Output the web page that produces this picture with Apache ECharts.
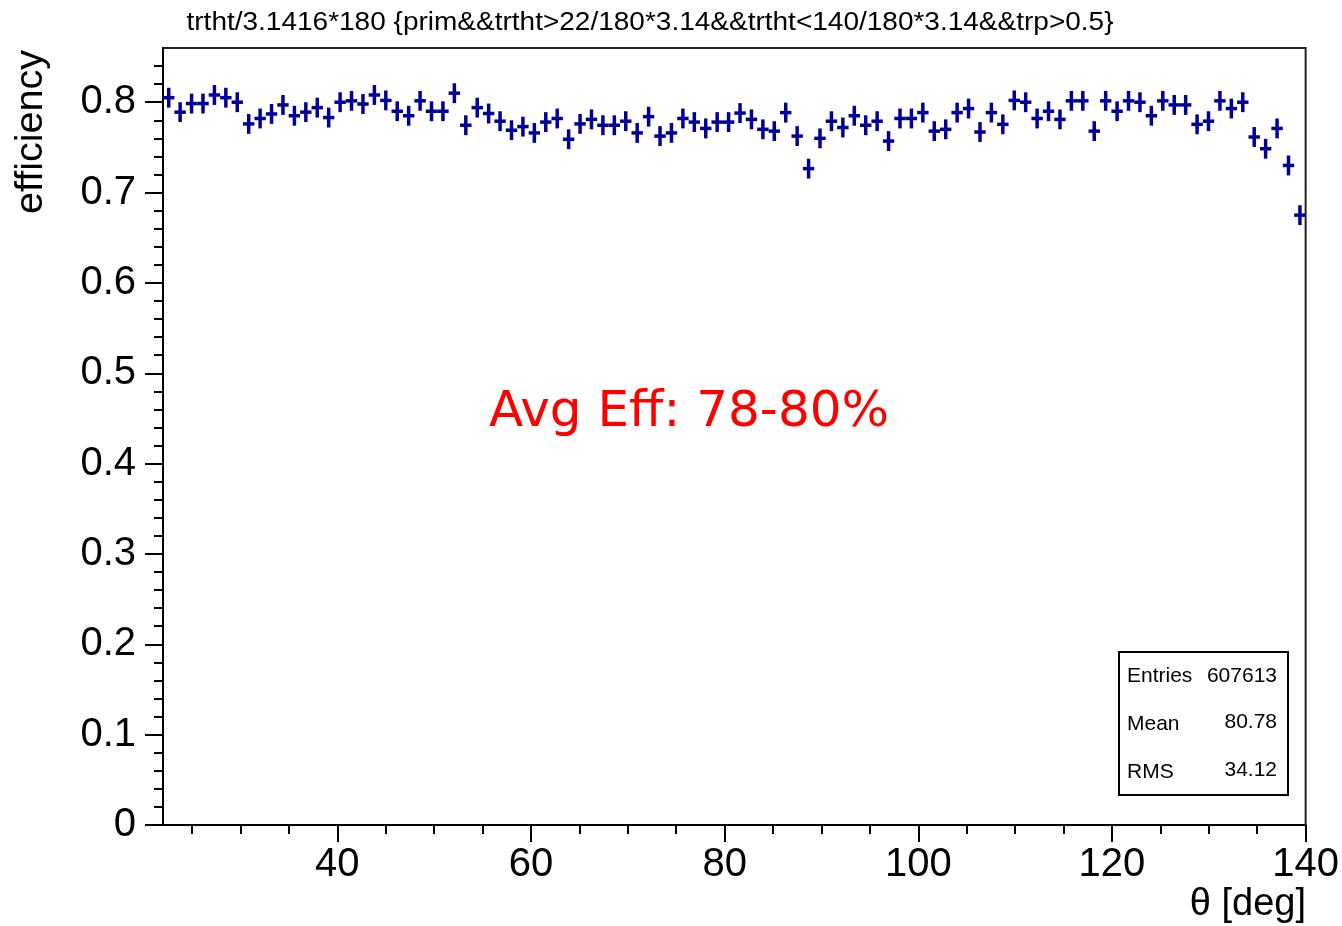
<!DOCTYPE html>
<html>
<head>
<meta charset="utf-8">
<script src="https://cdn.jsdelivr.net/npm/echarts@6/dist/echarts.min.js"></script>
<style>
html,body{margin:0;padding:0;background:#fff;}
#chart{width:1342px;height:926px;}
</style>
</head>
<body>
<div id="chart"></div>
<script>
// Histogram binning (ROOT default: 100 bins from 22 to 140 deg)
var xMin = 22, xMax = 140, nBins = 100;
// efficiency per bin
var efficiency = [
  0.805, 0.789, 0.7985, 0.7985, 0.808, 0.805, 0.800, 0.776, 0.782, 0.787,
  0.797, 0.785, 0.789, 0.794, 0.783, 0.800, 0.8015, 0.798, 0.808, 0.802,
  0.790, 0.785, 0.8015, 0.790, 0.790, 0.810, 0.7745, 0.794, 0.7875, 0.779,
  0.769, 0.773, 0.766, 0.778, 0.782, 0.759, 0.776, 0.781, 0.7745, 0.7745,
  0.779, 0.766, 0.784, 0.7625, 0.766, 0.782, 0.778, 0.771, 0.778, 0.778,
  0.788, 0.781, 0.770, 0.768, 0.7885, 0.7625, 0.7265, 0.760, 0.779, 0.772,
  0.785, 0.7745, 0.779, 0.757, 0.782, 0.782, 0.7885, 0.768, 0.770, 0.7885,
  0.793, 0.767, 0.7885, 0.7755, 0.802, 0.800, 0.782, 0.790, 0.781, 0.8015,
  0.8015, 0.768, 0.8015, 0.790, 0.8015, 0.800, 0.785, 0.8015, 0.797, 0.797,
  0.7755, 0.779, 0.8015, 0.793, 0.800, 0.7615, 0.7485, 0.771, 0.730, 0.675
];
var yErr = 0.011;
var xMajorTicks = [40, 60, 80, 100, 120, 140];
var xMinorTicks = [25, 30, 35, 45, 50, 55, 65, 70, 75, 85, 90, 95, 105, 110, 115, 125, 130, 135];
var yMajorTicks = [0, 0.1, 0.2, 0.3, 0.4, 0.5, 0.6, 0.7, 0.8];
var yMinorTicks = [0.02, 0.04, 0.06, 0.08, 0.12, 0.14, 0.16, 0.18, 0.22, 0.24, 0.26, 0.28,
  0.32, 0.34, 0.36, 0.38, 0.42, 0.44, 0.46, 0.48, 0.52, 0.54, 0.56, 0.58,
  0.62, 0.64, 0.66, 0.68, 0.72, 0.74, 0.76, 0.78, 0.82, 0.84];
var yMaxAxis = 0.86;
var titleText = 'trtht/3.1416*180 {prim&&trtht>22/180*3.14&&trtht<140/180*3.14&&trp>0.5}';
var yTitle = 'efficiency';
var xTitle = 'θ [deg]';
var noteText = 'Avg Eff: 78-80%';
var statsLabels = ['Entries', 'Mean', 'RMS'];
var statsValues = ['607613', '80.78', '34.12'];

var binW = (xMax - xMin) / nBins;
var data = efficiency.map(function (v, i) { return [xMin + (i + 0.5) * binW, v]; });
var markColor = '#000099';
var axisFont = 'Liberation Sans, Arial, sans-serif';

var chart = echarts.init(document.getElementById('chart'), null, {renderer: 'canvas'});

function axisBase(extra) {
  return Object.assign({
    type: 'value',
    splitLine: {show: false},
    axisLine: {show: false},
    axisTick: {show: false},
    axisLabel: {show: false}
  }, extra);
}

var option = {
  animation: false,
  backgroundColor: '#fff',
  grid: {left: 163, top: 48, right: 36, bottom: 101, show: true, borderColor: '#222', borderWidth: 2, backgroundColor: 'transparent'},
  xAxis: [
    axisBase({
      min: xMin, max: xMax, position: 'bottom',
      axisLine: {show: true, onZero: false, lineStyle: {color: '#000', width: 2}},
      axisTick: {show: true, inside: false, length: 17, customValues: xMajorTicks, lineStyle: {color: '#000', width: 2}},
      axisLabel: {show: true, customValues: xMajorTicks, margin: 20, color: '#000', fontSize: 40, fontFamily: axisFont}
    }),
    axisBase({
      min: xMin, max: xMax, position: 'bottom', offset: 0,
      axisTick: {show: true, inside: false, length: 9, customValues: xMinorTicks, lineStyle: {color: '#000', width: 2}}
    })
  ],
  yAxis: [
    axisBase({
      min: 0, max: yMaxAxis, position: 'left',
      axisLine: {show: true, onZero: false, lineStyle: {color: '#000', width: 2}},
      axisTick: {show: true, inside: false, length: 18, customValues: yMajorTicks, lineStyle: {color: '#000', width: 2}},
      axisLabel: {show: true, customValues: yMajorTicks, margin: 27, color: '#000', fontSize: 40, fontFamily: axisFont,
        formatter: function (v) { return v === 0 ? '0' : v.toFixed(1); }}
    }),
    axisBase({
      min: 0, max: yMaxAxis, position: 'left', offset: 0,
      axisTick: {show: true, inside: false, length: 9, customValues: yMinorTicks, lineStyle: {color: '#000', width: 2}}
    })
  ],
  series: [{
    type: 'custom',
    xAxisIndex: 0, yAxisIndex: 0,
    data: data,
    clip: true,
    renderItem: function (params, api) {
      var xc = api.value(0), y = api.value(1);
      var l = api.coord([xc - binW / 2, y]);
      var r = api.coord([xc + binW / 2, y]);
      var t = api.coord([xc, y + yErr]);
      var b = api.coord([xc, y - yErr]);
      var st = {stroke: markColor, lineWidth: 3.5, fill: null};
      return {type: 'group', children: [
        {type: 'line', shape: {x1: l[0], y1: l[1], x2: r[0], y2: r[1]}, style: st},
        {type: 'line', shape: {x1: t[0], y1: t[1], x2: b[0], y2: b[1]}, style: st}
      ]};
    }
  }],
  graphic: [
    {type: 'text', x: 650, y: 23, scaleX: 1.12, style: {text: titleText, fontSize: 25, fontFamily: axisFont, fill: '#000', align: 'center', verticalAlign: 'middle'}},
    {type: 'text', x: 32, y: 50, rotation: Math.PI / 2, scaleX: 1.04, style: {text: yTitle, fontSize: 38, fontFamily: axisFont, fill: '#000', align: 'right', verticalAlign: 'middle'}},
    {type: 'text', x: 1306, y: 905, style: {text: xTitle, fontSize: 38, fontFamily: axisFont, fill: '#000', align: 'right', verticalAlign: 'middle'}},
    {type: 'text', x: 689, y: 413, style: {text: noteText, fontSize: 50, fontFamily: 'DejaVu Sans, Verdana, sans-serif', fill: '#ff0000', align: 'center', verticalAlign: 'middle'}},
    {type: 'rect', shape: {x: 1119, y: 652, width: 169, height: 143}, style: {fill: '#fff', stroke: '#000', lineWidth: 2}},
    {type: 'text', x: 1127, y: 676, style: {text: statsLabels[0], fontSize: 21, fontFamily: axisFont, fill: '#000', align: 'left', verticalAlign: 'middle'}},
    {type: 'text', x: 1127, y: 724, style: {text: statsLabels[1], fontSize: 21, fontFamily: axisFont, fill: '#000', align: 'left', verticalAlign: 'middle'}},
    {type: 'text', x: 1127, y: 772, style: {text: statsLabels[2], fontSize: 21, fontFamily: axisFont, fill: '#000', align: 'left', verticalAlign: 'middle'}},
    {type: 'text', x: 1277, y: 676, style: {text: statsValues[0], fontSize: 21, fontFamily: axisFont, fill: '#000', align: 'right', verticalAlign: 'middle'}},
    {type: 'text', x: 1277, y: 722, style: {text: statsValues[1], fontSize: 21, fontFamily: axisFont, fill: '#000', align: 'right', verticalAlign: 'middle'}},
    {type: 'text', x: 1277, y: 770, style: {text: statsValues[2], fontSize: 21, fontFamily: axisFont, fill: '#000', align: 'right', verticalAlign: 'middle'}}
  ]
};
chart.setOption(option);
</script>
</body>
</html>
